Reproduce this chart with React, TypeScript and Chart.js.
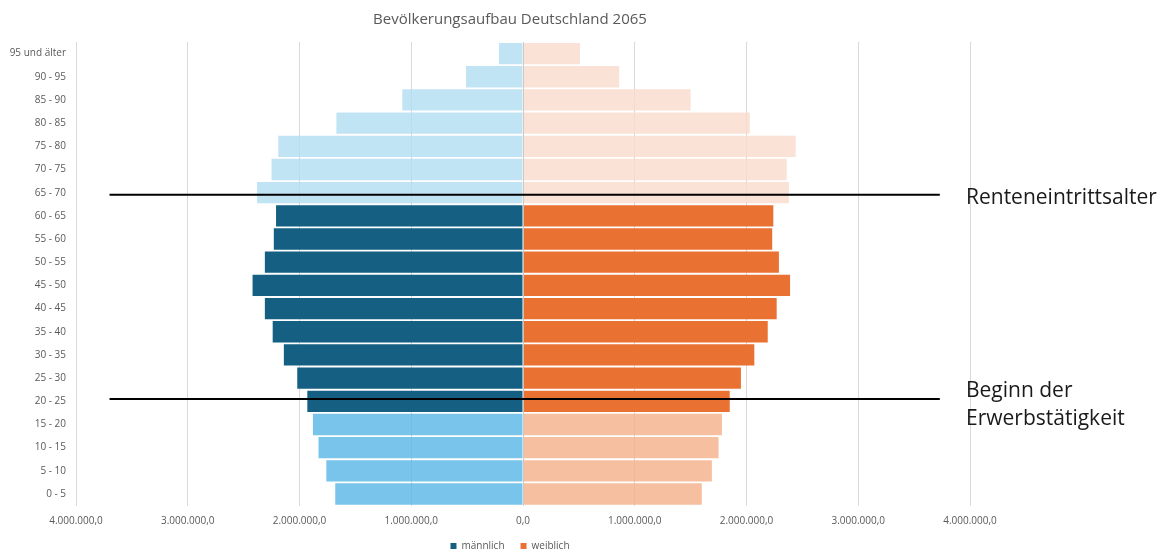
import React, { useEffect, useRef } from "react";
import { Chart, registerables } from "chart.js";

Chart.register(...registerables);

const ageGroups = [
  "95 und älter", "90 - 95", "85 - 90", "80 - 85", "75 - 80", "70 - 75", "65 - 70",
  "60 - 65", "55 - 60", "50 - 55", "45 - 50", "40 - 45", "35 - 40", "30 - 35",
  "25 - 30", "20 - 25", "15 - 20", "10 - 15", "5 - 10", "0 - 5",
];

const maleValues = [
  215000, 510000, 1080000, 1670000, 2190000, 2250000, 2380000,
  2210000, 2230000, 2310000, 2420000, 2310000, 2240000, 2140000,
  2020000, 1930000, 1880000, 1830000, 1760000, 1680000,
];

const femaleValues = [
  510000, 860000, 1500000, 2030000, 2440000, 2360000, 2380000,
  2240000, 2230000, 2290000, 2390000, 2270000, 2190000, 2070000,
  1950000, 1850000, 1780000, 1750000, 1690000, 1600000,
];

const xTickValues = [-4000000, -3000000, -2000000, -1000000, 0, 1000000, 2000000, 3000000, 4000000];

const seriesNames = ["männlich", "weiblich"];
const titleText = "Bevölkerungsaufbau Deutschland 2065";
const retirementGroup = "65 - 70";
const workStartGroup = "20 - 25";
const retirementLabel = ["Renteneintrittsalter"];
const workStartLabel = ["Beginn der", "Erwerbstätigkeit"];

const FONT = "'Open Sans', 'Noto Sans', sans-serif";
const GRAY = "#595959";

const maleColor = { old: "rgba(178,221,243,0.8)", work: "#156082", young: "rgba(86,181,229,0.8)" };
const femaleColor = { old: "rgba(249,219,204,0.8)", work: "#e97132", young: "rgba(243,175,136,0.8)" };

const retireIdx = ageGroups.indexOf(retirementGroup);
const workIdx = ageGroups.indexOf(workStartGroup);

function band(i: number): "old" | "work" | "young" {
  if (i <= retireIdx) return "old";
  if (i <= workIdx) return "work";
  return "young";
}

function fmt(v: number): string {
  const n = Math.round(Math.abs(v));
  return n.toString().replace(/\B(?=(\d{3})+(?!\d))/g, ".") + ",0";
}

const markerPlugin = {
  id: "markers",
  afterDatasetsDraw(chart: any) {
    const { ctx, chartArea } = chart;
    const xs = chart.scales.x;
    const ys = chart.scales.y;
    const x0 = Math.round(xs.getPixelForValue(0)) + 0.5;
    const x1 = xs.getPixelForValue(-3700000);
    const x2 = xs.getPixelForValue(3730000);
    const textX = xs.getPixelForValue(4000000) - 4;
    const items = [
      { y: ys.getPixelForValue(retireIdx) + 2, lines: retirementLabel },
      { y: ys.getPixelForValue(workIdx) - 2.4, lines: workStartLabel },
    ];
    ctx.save();
    ctx.strokeStyle = "rgba(200,200,200,0.9)";
    ctx.lineWidth = 1;
    ctx.beginPath();
    ctx.moveTo(x0, chartArea.top);
    ctx.lineTo(x0, chartArea.bottom);
    ctx.stroke();

    ctx.strokeStyle = "#000000";
    ctx.lineWidth = 2;
    ctx.fillStyle = "#1a1a1a";
    ctx.font = `21px ${FONT}`;
    ctx.textBaseline = "middle";
    ctx.textAlign = "left";
    for (const it of items) {
      ctx.beginPath();
      ctx.moveTo(x1, it.y);
      ctx.lineTo(x2, it.y);
      ctx.stroke();
      const lh = 28;
      const startY = it.lines.length === 1 ? it.y + 3 : it.y - 8;
      it.lines.forEach((t, k) => ctx.fillText(t, textX, startY + k * lh));
    }
    ctx.restore();
  },
};

export default function App() {
  const ref = useRef<HTMLCanvasElement | null>(null);

  useEffect(() => {
    if (!ref.current) return;
    const chart = new Chart(ref.current, {
      type: "bar",
      data: {
        labels: ageGroups,
        datasets: [
          {
            label: seriesNames[0],
            data: maleValues.map((v) => -v),
            backgroundColor: ageGroups.map((_, i) => maleColor[band(i)]),
            barPercentage: 0.92,
            categoryPercentage: 1,
          },
          {
            label: seriesNames[1],
            data: femaleValues,
            backgroundColor: ageGroups.map((_, i) => femaleColor[band(i)]),
            barPercentage: 0.92,
            categoryPercentage: 1,
          },
        ],
      },
      options: {
        indexAxis: "y",
        responsive: true,
        maintainAspectRatio: false,
        animation: false,
        layout: { padding: { left: 8, right: 160, top: 0, bottom: -6 } },
        scales: {
          x: {
            stacked: true,
            min: -4000000,
            max: 4000000,
            afterBuildTicks: (s: any) => {
              s.ticks = xTickValues.map((v) => ({ value: v }));
            },
            ticks: {
              callback: (v: any) => fmt(Number(v)),
              color: GRAY,
              font: { size: 10, family: FONT },
              padding: 10,
              maxRotation: 0,
            },
            grid: { color: "#d9d9d9", drawTicks: false },
            border: { display: false },
            afterFit: (s: any) => {
              s.height = 19.4;
            },
          },
          y: {
            stacked: true,
            grid: { display: false, drawTicks: false },
            border: { display: false },
            ticks: {
              color: GRAY,
              font: { size: 10, family: FONT },
              padding: 10,
              autoSkip: false,
            },
            afterFit: (s: any) => {
              s.width = 68;
            },
          },
          spacer: {
            type: "linear",
            position: "right",
            display: true,
            grid: { display: false, drawTicks: false },
            border: { display: false },
            ticks: { display: false },
            afterFit: (s: any) => {
              s.width = 42;
            },
          },
        },
        plugins: {
          title: {
            display: true,
            text: titleText,
            color: GRAY,
            font: { size: 15, weight: "normal", family: FONT },
            padding: { top: 11, bottom: 13 },
          },
          legend: {
            position: "bottom",
            labels: {
              color: GRAY,
              font: { size: 10, family: FONT },
              boxWidth: 6,
              boxHeight: 6,
              padding: 16,
              generateLabels: () =>
                seriesNames.map((name, i) => ({
                  text: name,
                  fillStyle: i === 0 ? maleColor.work : femaleColor.work,
                  strokeStyle: "rgba(0,0,0,0)",
                  lineWidth: 0,
                  fontColor: GRAY,
                  hidden: false,
                  datasetIndex: i,
                })),
            },
          },
          tooltip: { enabled: false },
        },
      },
      plugins: [markerPlugin],
    } as any);
    return () => chart.destroy();
  }, []);

  return (
    <div style={{ position: "fixed", left: 0, top: 0, width: 1172, height: 555, background: "#ffffff" }}>
      <canvas ref={ref} />
    </div>
  );
}
